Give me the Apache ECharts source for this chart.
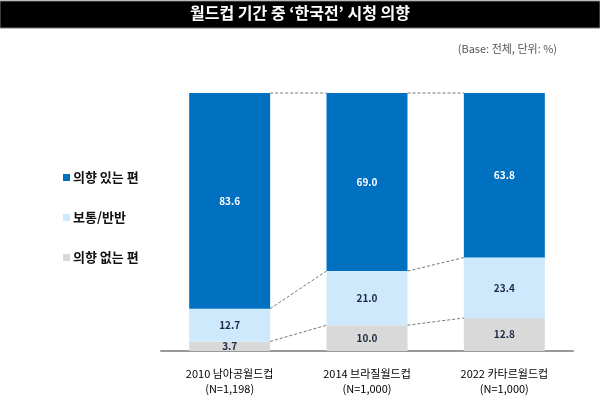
<!DOCTYPE html>
<html>
<head>
<meta charset="utf-8">
<script src="https://cdn.jsdelivr.net/npm/echarts@6/dist/echarts.min.js"></script>
<style>
	html, body { margin: 0; padding: 0; background: #fff; }
	#main { width: 600px; height: 399px; }
</style>
</head>
<body>
<div id="main"></div>
<script>
	var categories = [ '2010 남아공월드컵\n(N=1,198)', '2014 브라질월드컵\n(N=1,000)', '2022 카타르월드컵\n(N=1,000)' ];
	var seriesNames = [ '의향 있는 편', '보통/반반', '의향 없는 편' ];
	var willing = [ 83.6, 69.0, 63.8 ];
	var neutral = [ 12.7, 21.0, 23.4 ];
	var notWilling = [ 3.7, 10.0, 12.8 ];

	var FONT = '"Noto Sans CJK KR", "Noto Sans", sans-serif';
	var BAR_W = 81;

	// 막대 사이 점선 연결용 데이터 (누적 경계값)
	var links = [];
	for (var i = 0; i < categories.length - 1; i++) {
		var a1 = notWilling[i], b1 = notWilling[i + 1];
		var a2 = notWilling[i] + neutral[i], b2 = notWilling[i + 1] + neutral[i + 1];
		var a3 = a2 + willing[i], b3 = b2 + willing[i + 1];
		links.push([ i, a1, b1 ]);
		links.push([ i, a2, b2 ]);
		links.push([ i, a3, b3 ]);
	}

	var chart = echarts.init(document.getElementById('main'));

	function innerLabel(color) {
		return {
			show : true,
			position : 'inside',
			fontFamily : FONT,
			fontWeight : 'bold',
			fontSize : 10,
			color : color,
			formatter : function(p) {
				return p.value.toFixed(1);
			}
		};
	}

	var option = {
		backgroundColor : '#fff',
		animation : false,
		graphic : [ {
			type : 'rect',
			shape : { x : 0, y : 1, width : 600, height : 27 },
			style : { fill : '#000', stroke : '#777', lineWidth : 1 }
		}, {
			type : 'text',
			left : 'center',
			top : 5,
			style : {
				text : '월드컵 기간 중 ‘한국전’ 시청 의향',
				fill : '#fff',
				font : 'bold 16px ' + FONT
			}
		}, {
			type : 'text',
			right : 43,
			top : 43,
			style : {
				text : '(Base: 전체, 단위: %)',
				fill : '#555',
				font : '11px ' + FONT
			}
		} ],
		legend : {
			orient : 'vertical',
			left : 58,
			top : 166,
			itemGap : 27,
			itemWidth : 7,
			itemHeight : 7,
			icon : 'rect',
			data : seriesNames,
			textStyle : {
				fontFamily : FONT,
				fontWeight : 'bold',
				fontSize : 13,
				padding : [ 0, 0, 0, -2 ],
				color : '#111'
			}
		},
		grid : {
			left : 161,
			right : 27,
			top : 93,
			bottom : 48
		},
		xAxis : {
			type : 'category',
			data : categories,
			axisLine : { lineStyle : { color : '#999', width : 2 } },
			axisTick : { show : false },
			axisLabel : {
				margin : 15,
				fontFamily : FONT,
				fontSize : 11,
				lineHeight : 15,
				color : '#000'
			}
		},
		yAxis : {
			type : 'value',
			min : 0,
			max : 100,
			show : false
		},
		series : [ {
			name : seriesNames[2],
			type : 'bar',
			stack : 'all',
			barWidth : BAR_W,
			data : notWilling,
			itemStyle : { color : '#d9d9d9' },
			label : innerLabel('#1f2a44')
		}, {
			name : seriesNames[1],
			type : 'bar',
			stack : 'all',
			barWidth : BAR_W,
			data : neutral,
			itemStyle : { color : '#cde9fb' },
			label : innerLabel('#1f2a44')
		}, {
			name : seriesNames[0],
			type : 'bar',
			stack : 'all',
			barWidth : BAR_W,
			data : willing,
			itemStyle : { color : '#0070c0' },
			label : innerLabel('#fff')
		}, {
			type : 'custom',
			silent : true,
			z : 5,
			data : links,
			renderItem : function(params, api) {
				var i = api.value(0);
				var p1 = api.coord([ i, api.value(1) ]);
				var p2 = api.coord([ i + 1, api.value(2) ]);
				return {
					type : 'line',
					shape : {
						x1 : p1[0] + BAR_W / 2,
						y1 : p1[1],
						x2 : p2[0] - BAR_W / 2,
						y2 : p2[1]
					},
					style : {
						stroke : '#777',
						lineWidth : 1,
						lineDash : [ 3, 2 ]
					}
				};
			}
		} ]
	};

	chart.setOption(option);
</script>
</body>
</html>
